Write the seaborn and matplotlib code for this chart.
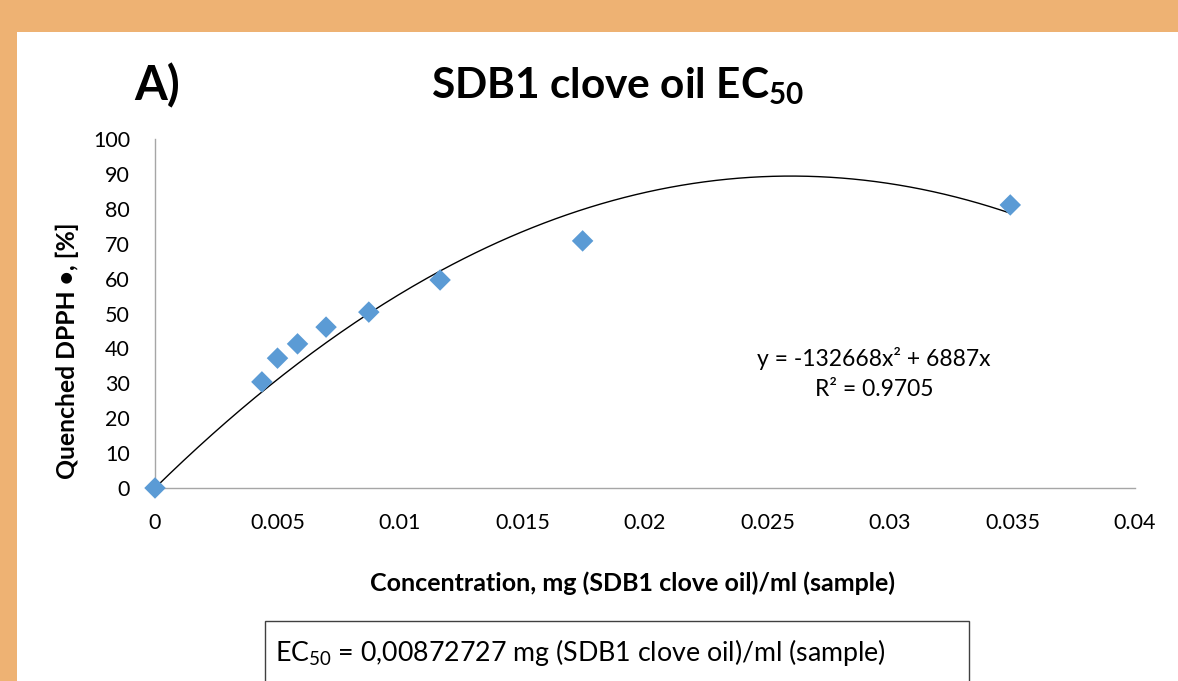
import matplotlib
matplotlib.use("Agg")
import matplotlib.pyplot as plt
import seaborn as sns
import numpy as np
import pandas as pd
from matplotlib.patches import Rectangle

# ---- data ----
concentration = [0.0, 0.004363, 0.005, 0.005818, 0.006982, 0.008727, 0.011636, 0.017454, 0.034909]
quenched = [0.0, 30.4, 37.2, 41.3, 46.1, 50.4, 59.6, 70.8, 81.1]
trend_coeffs = [-132668, 6887, 0]  # y = -132668x^2 + 6887x
x_ticks = [0, 0.005, 0.01, 0.015, 0.02, 0.025, 0.03, 0.035, 0.04]
x_tick_labels = ["0", "0.005", "0.01", "0.015", "0.02", "0.025", "0.03", "0.035", "0.04"]
y_ticks = [0, 10, 20, 30, 40, 50, 60, 70, 80, 90, 100]

sns.set_style("white")
plt.rcParams['font.family'] = ['Lato', 'DejaVu Sans']
plt.rcParams['text.color'] = 'black'
plt.rcParams['axes.labelcolor'] = 'black'
plt.rcParams['mathtext.fontset'] = 'custom'
plt.rcParams['mathtext.rm'] = 'Lato'
plt.rcParams['mathtext.bf'] = 'Lato:bold'
plt.rcParams['mathtext.it'] = 'Lato:italic'

W, H = 1178, 681
fig = plt.figure(figsize=(W / 100, H / 100), dpi=100)
fig.patch.set_facecolor('#EEB273')
fig.patches.append(Rectangle((17 / W, 0), 1 - 17 / W, 1 - 32 / H, transform=fig.transFigure,
                             facecolor='white', edgecolor='none', zorder=-5))

ax = fig.add_axes([155 / W, 1 - 488 / H, (1135 - 155) / W, (488 - 139) / H])
ax.set_facecolor('none')
ax.set_zorder(2)

df = pd.DataFrame({"x": concentration, "y": quenched})
xs = np.linspace(0, max(concentration), 300)
ys = np.polyval(trend_coeffs, xs)
sns.lineplot(x=xs, y=ys, ax=ax, color='black', linewidth=1.0, zorder=2)
sns.scatterplot(data=df, x="x", y="y", ax=ax, marker='D', s=120, color='#5B9BD5',
                edgecolor='none', linewidth=0, zorder=3, clip_on=False)

ax.set_xlim(0, 0.04)
ax.set_ylim(0, 100)
ax.set_xticks(x_ticks)
ax.set_xticklabels(x_tick_labels)
ax.set_yticks(y_ticks)
for s in ['top', 'right']:
    ax.spines[s].set_visible(False)
for s in ['left', 'bottom']:
    ax.spines[s].set_color('#A6A6A6')
    ax.spines[s].set_linewidth(1.0)
ax.tick_params(axis='both', direction='out', length=6, width=1.0, color='#A6A6A6',
               labelsize=15.5, labelcolor='black')
ax.tick_params(axis='x', pad=12)
ax.tick_params(axis='y', pad=12)

ax.set_xlabel("Concentration, mg (SDB1 clove oil)/ml (sample)", fontsize=18, fontweight='bold')
ax.set_ylabel("Quenched DPPH •, [%]", fontsize=17.8, fontweight='bold')
ax.xaxis.set_label_coords((632 - 155) / 980, (488 - 583) / 349)
ax.xaxis.label.set_va('center')
ax.yaxis.set_label_coords((67 - 155) / 980, (488 - 351) / 349)
ax.yaxis.label.set_va('center')

fig.text(618 / W, 1 - 86 / H, r"SDB1 clove oil EC$_{\mathbf{50}}$", fontsize=30.5, fontweight='bold',
         ha='center', va='center')
fig.text(157 / W, 1 - 86 / H, "A)", fontsize=34, fontweight='bold', ha='center', va='center')

ax.text(874 / W, 1 - 358 / H, "y = -132668x² + 6887x", transform=fig.transFigure,
        fontsize=16.5, ha='center', va='center')
ax.text(874 / W, 1 - 390 / H, "R² = 0.9705", transform=fig.transFigure,
        fontsize=16.5, ha='center', va='center')

fig.patches.append(Rectangle((265 / W, -0.05), (969 - 265) / W, 0.05 + (681 - 621) / H,
                             transform=fig.transFigure, facecolor='white', edgecolor='#404040',
                             linewidth=1.0, zorder=1))
fig.text(275 / W, 1 - 652 / H, r"EC$_{50}$ = 0,00872727 mg (SDB1 clove oil)/ml (sample)",
         fontsize=19.3, ha='left', va='center')

fig.savefig("out.png", dpi=100, facecolor=fig.get_facecolor())
